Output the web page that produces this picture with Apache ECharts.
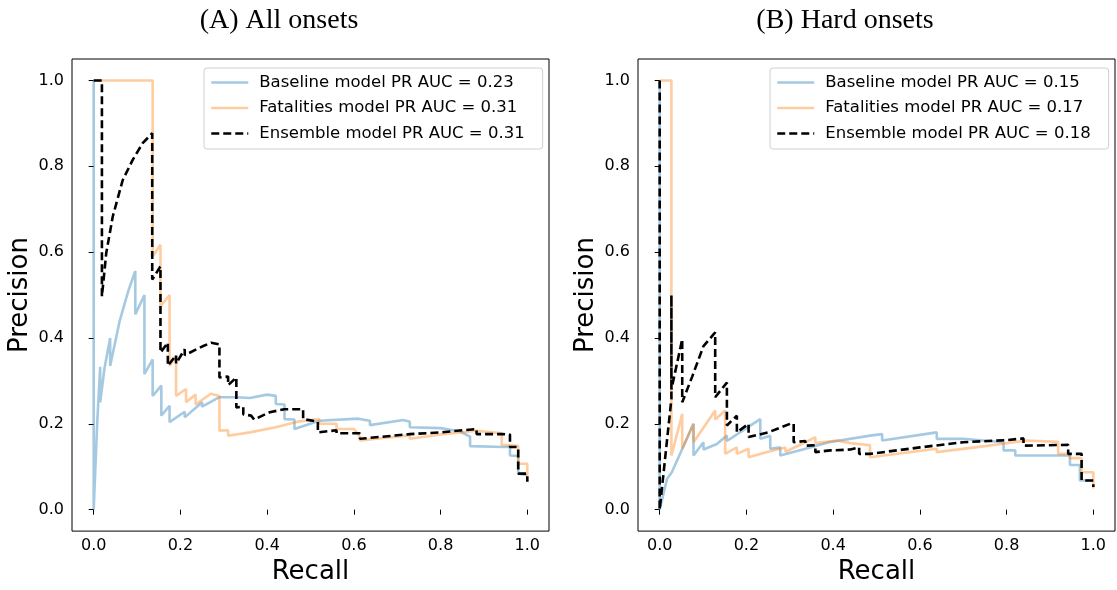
<!DOCTYPE html>
<html>
<head>
<meta charset="utf-8">
<script src="https://cdn.jsdelivr.net/npm/echarts@6/dist/echarts.min.js"></script>
<style>
  html, body { margin: 0; padding: 0; background: #fff; }
  #chart { width: 1117px; height: 590px; }
</style>
</head>
<body>
<div id="chart"></div>
<script>
// 刻度
const tickValues = [0, 0.2, 0.4, 0.6, 0.8, 1.0];

// (A) All onsets: [recall, precision]
const baselineA = [[0,1],[0,0],[0.008,0.2],[0.015,0.333],[0.015,0.25],[0.025,0.33],[0.038,0.4],[0.038,0.335],
  [0.06,0.44],[0.08,0.51],[0.096,0.556],[0.096,0.455],[0.117,0.5],[0.117,0.316],[0.136,0.35],[0.136,0.265],
  [0.156,0.289],[0.156,0.219],[0.175,0.242],[0.175,0.204],[0.21,0.228],[0.21,0.215],[0.25,0.25],[0.25,0.24],
  [0.29,0.262],[0.33,0.262],[0.36,0.26],[0.4,0.268],[0.42,0.265],[0.42,0.246],[0.44,0.245],[0.44,0.211],
  [0.463,0.21],[0.463,0.188],[0.52,0.207],[0.61,0.212],[0.637,0.207],[0.637,0.197],[0.714,0.209],[0.729,0.205],
  [0.729,0.192],[0.8,0.19],[0.845,0.182],[0.868,0.17],[0.868,0.148],[0.945,0.146],[0.96,0.146],[0.96,0.126],
  [0.979,0.125],[0.979,0.084],[1.0,0.08]];
const fatalitiesA = [[0,1],[0.136,1],[0.136,0.59],[0.154,0.617],[0.154,0.474],[0.175,0.5],[0.175,0.335],
  [0.19,0.358],[0.19,0.265],[0.213,0.281],[0.213,0.25],[0.235,0.268],[0.235,0.245],[0.27,0.27],[0.29,0.265],
  [0.29,0.184],[0.31,0.185],[0.31,0.172],[0.36,0.18],[0.42,0.192],[0.47,0.205],[0.52,0.211],[0.52,0.2],
  [0.56,0.2],[0.56,0.188],[0.6,0.188],[0.614,0.17],[0.614,0.161],[0.68,0.168],[0.729,0.173],[0.729,0.165],
  [0.8,0.175],[0.883,0.184],[0.941,0.178],[0.941,0.151],[0.979,0.149],[0.979,0.107],[1.0,0.107],[1.0,0.08]];
const ensembleA = [[0,1],[0.019,1],[0.019,0.497],[0.029,0.598],[0.044,0.683],[0.067,0.768],[0.09,0.815],
  [0.113,0.854],[0.135,0.877],[0.135,0.536],[0.154,0.567],[0.154,0.366],[0.171,0.389],[0.171,0.335],
  [0.19,0.36],[0.19,0.34],[0.21,0.374],[0.21,0.36],[0.25,0.38],[0.271,0.389],[0.29,0.385],[0.29,0.308],
  [0.31,0.31],[0.31,0.29],[0.329,0.308],[0.329,0.238],[0.345,0.24],[0.345,0.222],[0.363,0.219],[0.37,0.21],
  [0.406,0.227],[0.44,0.234],[0.483,0.234],[0.483,0.211],[0.517,0.205],[0.517,0.18],[0.56,0.185],[0.56,0.178],
  [0.614,0.178],[0.614,0.165],[0.729,0.176],[0.8,0.18],[0.883,0.188],[0.883,0.176],[0.941,0.176],[0.96,0.175],
  [0.96,0.146],[0.979,0.146],[0.979,0.084],[1.0,0.084],[1.0,0.065]];

// (B) Hard onsets: [recall, precision]
const baselineB = [[0,1],[0,0],[0.017,0.072],[0.028,0.087],[0.028,0.09],[0.078,0.2],[0.078,0.126],[0.101,0.157],
  [0.101,0.14],[0.132,0.153],[0.155,0.173],[0.155,0.16],[0.2,0.19],[0.232,0.211],[0.232,0.165],[0.255,0.172],
  [0.255,0.142],[0.278,0.145],[0.278,0.126],[0.33,0.14],[0.39,0.157],[0.489,0.173],[0.513,0.176],[0.513,0.161],
  [0.639,0.18],[0.639,0.165],[0.7,0.165],[0.793,0.157],[0.793,0.138],[0.82,0.138],[0.82,0.126],[0.946,0.126],
  [0.946,0.104],[0.969,0.104],[0.969,0.068],[1.0,0.068]];
const fatalitiesB = [[0,1],[0.027,1],[0.027,0.126],[0.052,0.223],[0.052,0.142],[0.078,0.2],[0.078,0.157],
  [0.128,0.231],[0.128,0.21],[0.151,0.231],[0.151,0.13],[0.178,0.145],[0.178,0.13],[0.205,0.142],[0.205,0.122],
  [0.25,0.135],[0.29,0.145],[0.29,0.135],[0.336,0.157],[0.359,0.169],[0.359,0.155],[0.409,0.161],[0.44,0.155],
  [0.485,0.15],[0.485,0.122],[0.639,0.142],[0.639,0.134],[0.75,0.148],[0.846,0.161],[0.919,0.158],[0.919,0.13],
  [0.946,0.13],[0.946,0.12],[0.973,0.12],[0.973,0.087],[1.0,0.087],[1.0,0.049]];
const ensembleB = [[0,1],[0,0],[0.027,0.258],[0.027,0.5],[0.027,0.28],[0.052,0.397],[0.052,0.25],[0.075,0.31],
  [0.101,0.381],[0.128,0.413],[0.128,0.262],[0.155,0.296],[0.155,0.196],[0.178,0.219],[0.178,0.18],[0.205,0.2],
  [0.205,0.169],[0.25,0.18],[0.301,0.2],[0.309,0.2],[0.309,0.157],[0.336,0.16],[0.336,0.149],[0.359,0.15],
  [0.359,0.134],[0.393,0.138],[0.44,0.14],[0.46,0.145],[0.46,0.13],[0.485,0.13],[0.6,0.145],[0.7,0.157],
  [0.8,0.162],[0.839,0.166],[0.839,0.149],[0.942,0.151],[0.942,0.13],[0.973,0.13],[0.973,0.068],[1.0,0.068],[1.0,0.053]];

const namesA = ['Baseline model PR AUC = 0.23', 'Fatalities model PR AUC = 0.31', 'Ensemble model PR AUC = 0.31'];
const namesB = ['Baseline model PR AUC = 0.15', 'Fatalities model PR AUC = 0.17', 'Ensemble model PR AUC = 0.18'];

const chart = echarts.init(document.getElementById('chart'));

const sansFont = '"DejaVu Sans", sans-serif';

function makeXAxis(idx) {
  return {
    type: 'value', gridIndex: idx, min: -0.05, max: 1.05,
    name: 'Recall', nameLocation: 'middle', nameGap: 24,
    nameTextStyle: { fontFamily: sansFont, fontSize: 26, color: '#000' },
    axisLine: { show: false },
    axisTick: { show: true, length: 5, lineStyle: { color: '#000' }, customValues: tickValues },
    axisLabel: { fontFamily: sansFont, fontSize: 16, color: '#000', margin: 7,
      customValues: tickValues, formatter: v => v.toFixed(1) },
    splitLine: { show: false }
  };
}

function makeYAxis(idx) {
  return {
    type: 'value', gridIndex: idx, min: -0.05, max: 1.05,
    name: 'Precision', nameLocation: 'middle', nameGap: 39,
    nameTextStyle: { fontFamily: sansFont, fontSize: 26, color: '#000' },
    axisLine: { show: false },
    axisTick: { show: true, length: 5, lineStyle: { color: '#000' }, customValues: tickValues },
    axisLabel: { fontFamily: sansFont, fontSize: 16, color: '#000', margin: 8,
      customValues: tickValues, formatter: v => v.toFixed(1) },
    splitLine: { show: false }
  };
}

// 图例：只画线，不画圆点
function makeLegend(names, left) {
  const hide = { opacity: 0 };
  return {
    orient: 'vertical', left: left, top: 68,
    itemWidth: 37, itemHeight: 14, itemGap: 6.5,
    padding: [5, 18, 6, 6],
    borderColor: '#d0d0d0', borderWidth: 1, borderRadius: 3,
    backgroundColor: 'rgba(255,255,255,0.8)',
    textStyle: { fontFamily: sansFont, fontSize: 16.5, color: '#000', lineHeight: 19, padding: [0, 0, 0, 6] },
    data: [
      { name: names[0], itemStyle: hide, lineStyle: { color: '#a5c9e1', opacity: 1, width: 2.5 } },
      { name: names[1], itemStyle: hide, lineStyle: { color: '#ffcc9f', opacity: 1, width: 2.5 } },
      { name: names[2], itemStyle: hide, lineStyle: { color: '#000', opacity: 1, width: 2.5, type: [8, 4] } }
    ]
  };
}

function makeSeries(names, data, idx) {
  return [
    { name: names[0], type: 'line', xAxisIndex: idx, yAxisIndex: idx, data: data[0], symbol: 'none',
      color: '#1f77b4', lineStyle: { width: 2.6, opacity: 0.4 }, z: 2 },
    { name: names[1], type: 'line', xAxisIndex: idx, yAxisIndex: idx, data: data[1], symbol: 'none',
      color: '#ff7f0e', lineStyle: { width: 2.6, opacity: 0.4 }, z: 3 },
    { name: names[2], type: 'line', xAxisIndex: idx, yAxisIndex: idx, data: data[2], symbol: 'none',
      color: '#000', lineStyle: { width: 2.6, type: [8, 4] }, z: 4 }
  ];
}

chart.setOption({
  animation: false,
  backgroundColor: '#fff',
  graphic: [
    { type: 'text', x: 279, y: 21, style: { text: '(A) All onsets', font: '28px "Liberation Serif", serif',
      fill: '#000', align: 'center', verticalAlign: 'middle' } },
    { type: 'text', x: 845, y: 21, style: { text: '(B) Hard onsets', font: '28px "Liberation Serif", serif',
      fill: '#000', align: 'center', verticalAlign: 'middle' } }
  ],
  grid: [
    { left: 72, top: 59, width: 477, height: 474, show: true, borderColor: '#000', borderWidth: 1, backgroundColor: 'transparent' },
    { left: 638, top: 59, width: 477, height: 474, show: true, borderColor: '#000', borderWidth: 1, backgroundColor: 'transparent' }
  ],
  xAxis: [makeXAxis(0), makeXAxis(1)],
  yAxis: [makeYAxis(0), makeYAxis(1)],
  legend: [makeLegend(namesA, 204), makeLegend(namesB, 770)],
  series: [
    ...makeSeries(namesA, [baselineA, fatalitiesA, ensembleA], 0),
    ...makeSeries(namesB, [baselineB, fatalitiesB, ensembleB], 1)
  ]
});
</script>
</body>
</html>
